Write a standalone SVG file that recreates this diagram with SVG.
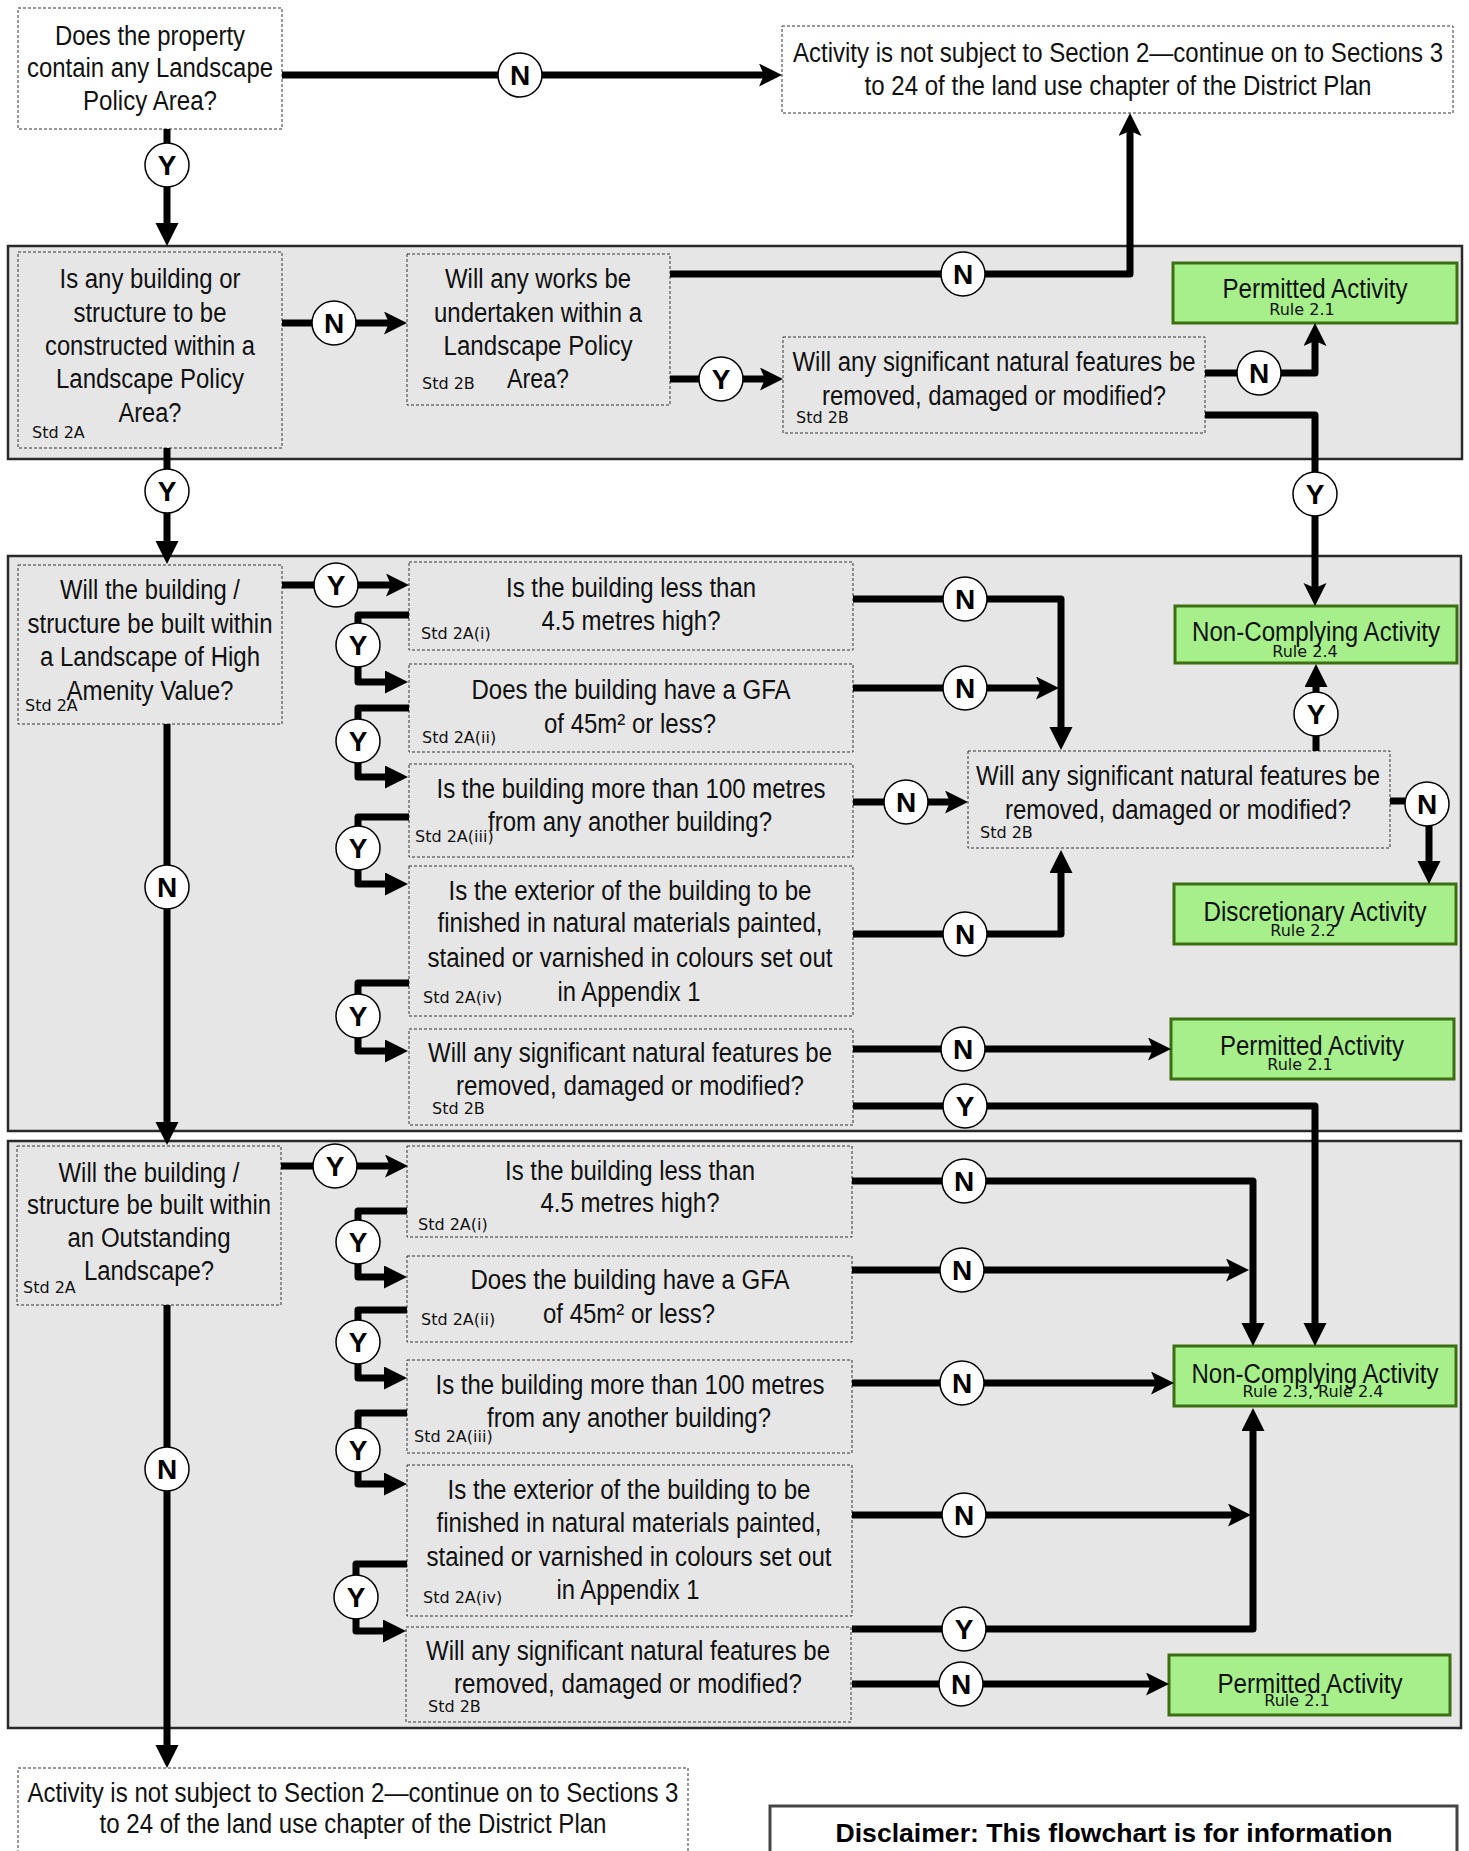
<svg xmlns="http://www.w3.org/2000/svg" width="1469" height="1851" viewBox="0 0 1469 1851">
<style>
.band{fill:#e6e6e6;stroke:#2a2a2a;stroke-width:2.5}
.q{fill:#e6e6e6;stroke:#333;stroke-width:1;stroke-dasharray:3 2}
.qw{fill:#fff;stroke:#333;stroke-width:1;stroke-dasharray:3 2}
.g{fill:#a6ef8a;stroke:#3c6e12;stroke-width:3}
.t{font-family:"Liberation Sans Narrow","Arial Narrow","Liberation Sans",sans-serif;font-size:27px;fill:#111;text-anchor:middle}
.s{font-family:"DejaVu Sans",sans-serif;font-size:16px;fill:#111}
.r{font-family:"DejaVu Sans",sans-serif;font-size:16px;fill:#111;text-anchor:middle}
.c{fill:none;stroke:#000;stroke-width:7;stroke-linejoin:round}
.lc{fill:#fff;stroke:#000;stroke-width:1.5}
.lt{font-family:"Liberation Sans",Arial,sans-serif;font-weight:bold;font-size:28px;text-anchor:middle;fill:#000}
.d{font-family:"Liberation Sans",Arial,sans-serif;font-weight:bold;font-size:25px;text-anchor:middle;fill:#000}
.db{fill:#fff;stroke:#444;stroke-width:3}
</style>
<defs>
<marker id="st" markerUnits="userSpaceOnUse" markerWidth="24" markerHeight="24" refX="11" refY="11.5" orient="auto">
<path d="M0,0 L23,11.5 L0,23 L5,11.5 Z" fill="#000"/>
</marker>
<marker id="tr" markerUnits="userSpaceOnUse" markerWidth="24" markerHeight="24" refX="11" refY="11.5" orient="auto">
<path d="M0,0 L23,11.5 L0,23 Z" fill="#000"/>
</marker>
</defs>
<rect width="1469" height="1851" fill="#fff"/>

<g id="bands">
<rect class="band" x="8" y="246" width="1454" height="213"/>
<rect class="band" x="8" y="556" width="1453" height="575"/>
<rect class="band" x="8" y="1141" width="1453" height="587"/>
</g>

<g id="n-start">
<rect class="qw" x="18" y="8" width="264" height="121"/>
<text class="t" x="150" y="45" textLength="190" lengthAdjust="spacingAndGlyphs">Does the property</text>
<text class="t" x="150" y="77" textLength="246" lengthAdjust="spacingAndGlyphs">contain any Landscape</text>
<text class="t" x="150" y="110" textLength="134" lengthAdjust="spacingAndGlyphs">Policy Area?</text>
</g>
<g id="n-notsubject-top">
<rect class="qw" x="782" y="26" width="671" height="87"/>
<text class="t" x="1118" y="62" textLength="650" lengthAdjust="spacingAndGlyphs">Activity is not subject to Section 2—continue on to Sections 3</text>
<text class="t" x="1118" y="95" textLength="507" lengthAdjust="spacingAndGlyphs">to 24 of the land use chapter of the District Plan</text>
</g>

<g id="n-a1">
<rect class="q" x="18" y="252" width="264" height="196"/>
<text class="t" x="150" y="288" textLength="181" lengthAdjust="spacingAndGlyphs">Is any building or</text>
<text class="t" x="150" y="322" textLength="153" lengthAdjust="spacingAndGlyphs">structure to be</text>
<text class="t" x="150" y="355" textLength="210" lengthAdjust="spacingAndGlyphs">constructed within a</text>
<text class="t" x="150" y="388" textLength="188" lengthAdjust="spacingAndGlyphs">Landscape Policy</text>
<text class="t" x="150" y="422" textLength="63" lengthAdjust="spacingAndGlyphs">Area?</text>
<text class="s" x="32" y="438">Std 2A</text>
</g>
<g id="n-a2">
<rect class="q" x="407" y="254" width="263" height="151"/>
<text class="t" x="538" y="288" textLength="186" lengthAdjust="spacingAndGlyphs">Will any works be</text>
<text class="t" x="538" y="322" textLength="208" lengthAdjust="spacingAndGlyphs">undertaken within a</text>
<text class="t" x="538" y="355" textLength="189" lengthAdjust="spacingAndGlyphs">Landscape Policy</text>
<text class="t" x="538" y="388" textLength="62" lengthAdjust="spacingAndGlyphs">Area?</text>
<text class="s" x="422" y="389">Std 2B</text>
</g>
<g id="n-a3">
<rect class="q" x="783" y="337" width="422" height="96"/>
<text class="t" x="994" y="371" textLength="403" lengthAdjust="spacingAndGlyphs">Will any significant natural features be</text>
<text class="t" x="994" y="405" textLength="344" lengthAdjust="spacingAndGlyphs">removed, damaged or modified?</text>
<text class="s" x="796" y="423">Std 2B</text>
</g>
<g id="n-perm1">
<rect class="g" x="1173" y="263" width="284" height="60"/>
<text class="t" x="1315" y="298" textLength="185" lengthAdjust="spacingAndGlyphs">Permitted Activity</text>
<text class="r" x="1302" y="315">Rule 2.1</text>
</g>

<g id="n-hav">
<rect class="q" x="18" y="565" width="264" height="159"/>
<text class="t" x="150" y="599" textLength="180" lengthAdjust="spacingAndGlyphs">Will the building /</text>
<text class="t" x="150" y="633" textLength="245" lengthAdjust="spacingAndGlyphs">structure be built within</text>
<text class="t" x="150" y="666" textLength="220" lengthAdjust="spacingAndGlyphs">a Landscape of High</text>
<text class="t" x="150" y="700" textLength="167" lengthAdjust="spacingAndGlyphs">Amenity Value?</text>
<text class="s" x="25" y="711">Std 2A</text>
</g>
<g id="n-h1">
<rect class="q" x="409" y="562" width="444" height="88"/>
<text class="t" x="631" y="597" textLength="250" lengthAdjust="spacingAndGlyphs">Is the building less than</text>
<text class="t" x="631" y="630" textLength="179" lengthAdjust="spacingAndGlyphs">4.5 metres high?</text>
<text class="s" x="421" y="639">Std 2A(i)</text>
</g>
<g id="n-h2">
<rect class="q" x="409" y="664" width="444" height="88"/>
<text class="t" x="631" y="699" textLength="319" lengthAdjust="spacingAndGlyphs">Does the building have a GFA</text>
<text class="t" x="630" y="733" textLength="172" lengthAdjust="spacingAndGlyphs">of 45m² or less?</text>
<text class="s" x="422" y="743">Std 2A(ii)</text>
</g>
<g id="n-h3">
<rect class="q" x="409" y="764" width="444" height="93"/>
<text class="t" x="631" y="798" textLength="389" lengthAdjust="spacingAndGlyphs">Is the building more than 100 metres</text>
<text class="t" x="630" y="831" textLength="284" lengthAdjust="spacingAndGlyphs">from any another building?</text>
<text class="s" x="415" y="842">Std 2A(iii)</text>
</g>
<g id="n-h4">
<rect class="q" x="409" y="866" width="444" height="150"/>
<text class="t" x="630" y="900" textLength="363" lengthAdjust="spacingAndGlyphs">Is the exterior of the building to be</text>
<text class="t" x="630" y="932" textLength="385" lengthAdjust="spacingAndGlyphs">finished in natural materials painted,</text>
<text class="t" x="630" y="967" textLength="405" lengthAdjust="spacingAndGlyphs">stained or varnished in colours set out</text>
<text class="t" x="629" y="1001" textLength="143" lengthAdjust="spacingAndGlyphs">in Appendix 1</text>
<text class="s" x="423" y="1003">Std 2A(iv)</text>
</g>
<g id="n-h5">
<rect class="q" x="409" y="1029" width="444" height="96"/>
<text class="t" x="630" y="1062" textLength="404" lengthAdjust="spacingAndGlyphs">Will any significant natural features be</text>
<text class="t" x="630" y="1095" textLength="348" lengthAdjust="spacingAndGlyphs">removed, damaged or modified?</text>
<text class="s" x="432" y="1114">Std 2B</text>
</g>
<g id="n-hmid">
<rect class="q" x="968" y="751" width="422" height="97"/>
<text class="t" x="1178" y="785" textLength="404" lengthAdjust="spacingAndGlyphs">Will any significant natural features be</text>
<text class="t" x="1178" y="819" textLength="346" lengthAdjust="spacingAndGlyphs">removed, damaged or modified?</text>
<text class="s" x="980" y="838">Std 2B</text>
</g>
<g id="n-nc1">
<rect class="g" x="1175" y="606" width="282" height="57"/>
<text class="t" x="1316" y="641" textLength="248" lengthAdjust="spacingAndGlyphs">Non-Complying Activity</text>
<text class="r" x="1305" y="657">Rule 2.4</text>
</g>
<g id="n-disc">
<rect class="g" x="1174" y="884" width="282" height="60"/>
<text class="t" x="1315" y="921" textLength="223" lengthAdjust="spacingAndGlyphs">Discretionary Activity</text>
<text class="r" x="1303" y="936">Rule 2.2</text>
</g>
<g id="n-perm2">
<rect class="g" x="1171" y="1019" width="283" height="60"/>
<text class="t" x="1312" y="1055" textLength="184" lengthAdjust="spacingAndGlyphs">Permitted Activity</text>
<text class="r" x="1300" y="1070">Rule 2.1</text>
</g>

<g id="n-ol">
<rect class="q" x="17" y="1146" width="264" height="159"/>
<text class="t" x="149" y="1182" textLength="181" lengthAdjust="spacingAndGlyphs">Will the building /</text>
<text class="t" x="149" y="1214" textLength="244" lengthAdjust="spacingAndGlyphs">structure be built within</text>
<text class="t" x="149" y="1247" textLength="163" lengthAdjust="spacingAndGlyphs">an Outstanding</text>
<text class="t" x="149" y="1280" textLength="130" lengthAdjust="spacingAndGlyphs">Landscape?</text>
<text class="s" x="23" y="1293">Std 2A</text>
</g>
<g id="n-o1">
<rect class="q" x="407" y="1146" width="445" height="91"/>
<text class="t" x="630" y="1180" textLength="250" lengthAdjust="spacingAndGlyphs">Is the building less than</text>
<text class="t" x="630" y="1212" textLength="179" lengthAdjust="spacingAndGlyphs">4.5 metres high?</text>
<text class="s" x="418" y="1230">Std 2A(i)</text>
</g>
<g id="n-o2">
<rect class="q" x="407" y="1256" width="445" height="86"/>
<text class="t" x="630" y="1289" textLength="319" lengthAdjust="spacingAndGlyphs">Does the building have a GFA</text>
<text class="t" x="629" y="1323" textLength="172" lengthAdjust="spacingAndGlyphs">of 45m² or less?</text>
<text class="s" x="421" y="1325">Std 2A(ii)</text>
</g>
<g id="n-o3">
<rect class="q" x="407" y="1360" width="445" height="93"/>
<text class="t" x="630" y="1394" textLength="389" lengthAdjust="spacingAndGlyphs">Is the building more than 100 metres</text>
<text class="t" x="629" y="1427" textLength="284" lengthAdjust="spacingAndGlyphs">from any another building?</text>
<text class="s" x="414" y="1442">Std 2A(iii)</text>
</g>
<g id="n-o4">
<rect class="q" x="407" y="1465" width="445" height="151"/>
<text class="t" x="629" y="1499" textLength="363" lengthAdjust="spacingAndGlyphs">Is the exterior of the building to be</text>
<text class="t" x="629" y="1532" textLength="385" lengthAdjust="spacingAndGlyphs">finished in natural materials painted,</text>
<text class="t" x="629" y="1566" textLength="405" lengthAdjust="spacingAndGlyphs">stained or varnished in colours set out</text>
<text class="t" x="628" y="1599" textLength="143" lengthAdjust="spacingAndGlyphs">in Appendix 1</text>
<text class="s" x="423" y="1603">Std 2A(iv)</text>
</g>
<g id="n-o5">
<rect class="q" x="406" y="1627" width="445" height="95"/>
<text class="t" x="628" y="1660" textLength="404" lengthAdjust="spacingAndGlyphs">Will any significant natural features be</text>
<text class="t" x="628" y="1693" textLength="348" lengthAdjust="spacingAndGlyphs">removed, damaged or modified?</text>
<text class="s" x="428" y="1712">Std 2B</text>
</g>
<g id="n-nc2">
<rect class="g" x="1174" y="1346" width="282" height="60"/>
<text class="t" x="1315" y="1383" textLength="247" lengthAdjust="spacingAndGlyphs">Non-Complying Activity</text>
<text class="r" x="1313" y="1397">Rule 2.3, Rule 2.4</text>
</g>
<g id="n-perm3">
<rect class="g" x="1169" y="1655" width="281" height="60"/>
<text class="t" x="1310" y="1693" textLength="185" lengthAdjust="spacingAndGlyphs">Permitted Activity</text>
<text class="r" x="1297" y="1706">Rule 2.1</text>
</g>

<g id="n-notsubject-bottom">
<rect class="qw" x="18" y="1768" width="670" height="110"/>
<text class="t" x="353" y="1802" textLength="651" lengthAdjust="spacingAndGlyphs">Activity is not subject to Section 2—continue on to Sections 3</text>
<text class="t" x="353" y="1833" textLength="507" lengthAdjust="spacingAndGlyphs">to 24 of the land use chapter of the District Plan</text>
</g>
<g id="n-disclaimer">
<rect class="db" x="770" y="1806" width="687" height="70"/>
<text class="d" x="1114" y="1842" textLength="557" lengthAdjust="spacingAndGlyphs">Disclaimer: This flowchart is for information</text>
</g>

<g id="connectors">
<path class="c" d="M282,75 H770" marker-end="url(#st)"/>
<path class="c" d="M167,129 V234" marker-end="url(#tr)"/>
<path class="c" d="M282,323 H395" marker-end="url(#st)"/>
<path class="c" d="M167,448 V552" marker-end="url(#tr)"/>
<path class="c" d="M670,274 H1130 V125" marker-end="url(#st)"/>
<path class="c" d="M670,379 H771" marker-end="url(#st)"/>
<path class="c" d="M1205,373 H1315 V335" marker-end="url(#st)"/>
<path class="c" d="M1205,415 H1315 V594" marker-end="url(#st)"/>

<path class="c" d="M282,585 H397" marker-end="url(#st)"/>
<path class="c" d="M167,724 V1133" marker-end="url(#tr)"/>
<path class="c" d="M409,615 H358 V682 H396" marker-end="url(#tr)"/>
<path class="c" d="M409,708 H358 V777 H396" marker-end="url(#tr)"/>
<path class="c" d="M409,817 H358 V884 H396" marker-end="url(#tr)"/>
<path class="c" d="M409,983 H358 V1051 H396" marker-end="url(#tr)"/>
<path class="c" d="M853,599 H1061 V738" marker-end="url(#tr)"/>
<path class="c" d="M853,688 H1047" marker-end="url(#st)"/>
<path class="c" d="M853,802 H956" marker-end="url(#st)"/>
<path class="c" d="M853,934 H1061 V862" marker-end="url(#tr)"/>
<path class="c" d="M1316,751 V676" marker-end="url(#tr)"/>
<path class="c" d="M1390,801 H1429 V872" marker-end="url(#tr)"/>
<path class="c" d="M853,1049 H1159" marker-end="url(#st)"/>
<path class="c" d="M853,1106 H1315 V1334" marker-end="url(#tr)"/>

<path class="c" d="M281,1166 H396" marker-end="url(#st)"/>
<path class="c" d="M167,1305 V1756" marker-end="url(#tr)"/>
<path class="c" d="M407,1211 H358 V1277 H395" marker-end="url(#tr)"/>
<path class="c" d="M407,1310 H358 V1378 H395" marker-end="url(#tr)"/>
<path class="c" d="M407,1413 H358 V1484 H395" marker-end="url(#tr)"/>
<path class="c" d="M407,1564 H356 V1631 H394" marker-end="url(#tr)"/>
<path class="c" d="M852,1181 H1253 V1334" marker-end="url(#tr)"/>
<path class="c" d="M852,1270 H1237" marker-end="url(#st)"/>
<path class="c" d="M852,1383 H1162" marker-end="url(#st)"/>
<path class="c" d="M852,1515 H1239" marker-end="url(#st)"/>
<path class="c" d="M852,1629 H1253 V1420" marker-end="url(#tr)"/>
<path class="c" d="M852,1684 H1157" marker-end="url(#st)"/>
</g>

<g id="labels">
<circle class="lc" cx="520" cy="75" r="22"/><text class="lt" x="520" y="85">N</text>
<circle class="lc" cx="167" cy="165" r="22"/><text class="lt" x="167" y="175">Y</text>
<circle class="lc" cx="334" cy="323" r="22"/><text class="lt" x="334" y="333">N</text>
<circle class="lc" cx="167" cy="491" r="22"/><text class="lt" x="167" y="501">Y</text>
<circle class="lc" cx="963" cy="274" r="22"/><text class="lt" x="963" y="284">N</text>
<circle class="lc" cx="721" cy="379" r="22"/><text class="lt" x="721" y="389">Y</text>
<circle class="lc" cx="1259" cy="373" r="22"/><text class="lt" x="1259" y="383">N</text>
<circle class="lc" cx="1315" cy="494" r="22"/><text class="lt" x="1315" y="504">Y</text>

<circle class="lc" cx="336" cy="585" r="22"/><text class="lt" x="336" y="595">Y</text>
<circle class="lc" cx="167" cy="887" r="22"/><text class="lt" x="167" y="897">N</text>
<circle class="lc" cx="358" cy="645" r="22"/><text class="lt" x="358" y="655">Y</text>
<circle class="lc" cx="358" cy="741" r="22"/><text class="lt" x="358" y="751">Y</text>
<circle class="lc" cx="358" cy="848" r="22"/><text class="lt" x="358" y="858">Y</text>
<circle class="lc" cx="358" cy="1016" r="22"/><text class="lt" x="358" y="1026">Y</text>
<circle class="lc" cx="965" cy="599" r="22"/><text class="lt" x="965" y="609">N</text>
<circle class="lc" cx="965" cy="688" r="22"/><text class="lt" x="965" y="698">N</text>
<circle class="lc" cx="906" cy="802" r="22"/><text class="lt" x="906" y="812">N</text>
<circle class="lc" cx="965" cy="934" r="22"/><text class="lt" x="965" y="944">N</text>
<circle class="lc" cx="1316" cy="714" r="22"/><text class="lt" x="1316" y="724">Y</text>
<circle class="lc" cx="1427" cy="804" r="22"/><text class="lt" x="1427" y="814">N</text>
<circle class="lc" cx="963" cy="1049" r="22"/><text class="lt" x="963" y="1059">N</text>
<circle class="lc" cx="965" cy="1106" r="22"/><text class="lt" x="965" y="1116">Y</text>

<circle class="lc" cx="335" cy="1166" r="22"/><text class="lt" x="335" y="1176">Y</text>
<circle class="lc" cx="167" cy="1469" r="22"/><text class="lt" x="167" y="1479">N</text>
<circle class="lc" cx="358" cy="1242" r="22"/><text class="lt" x="358" y="1252">Y</text>
<circle class="lc" cx="358" cy="1342" r="22"/><text class="lt" x="358" y="1352">Y</text>
<circle class="lc" cx="358" cy="1450" r="22"/><text class="lt" x="358" y="1460">Y</text>
<circle class="lc" cx="356" cy="1597" r="22"/><text class="lt" x="356" y="1607">Y</text>
<circle class="lc" cx="964" cy="1181" r="22"/><text class="lt" x="964" y="1191">N</text>
<circle class="lc" cx="962" cy="1270" r="22"/><text class="lt" x="962" y="1280">N</text>
<circle class="lc" cx="962" cy="1383" r="22"/><text class="lt" x="962" y="1393">N</text>
<circle class="lc" cx="964" cy="1515" r="22"/><text class="lt" x="964" y="1525">N</text>
<circle class="lc" cx="964" cy="1629" r="22"/><text class="lt" x="964" y="1639">Y</text>
<circle class="lc" cx="961" cy="1684" r="22"/><text class="lt" x="961" y="1694">N</text>
</g>
</svg>
